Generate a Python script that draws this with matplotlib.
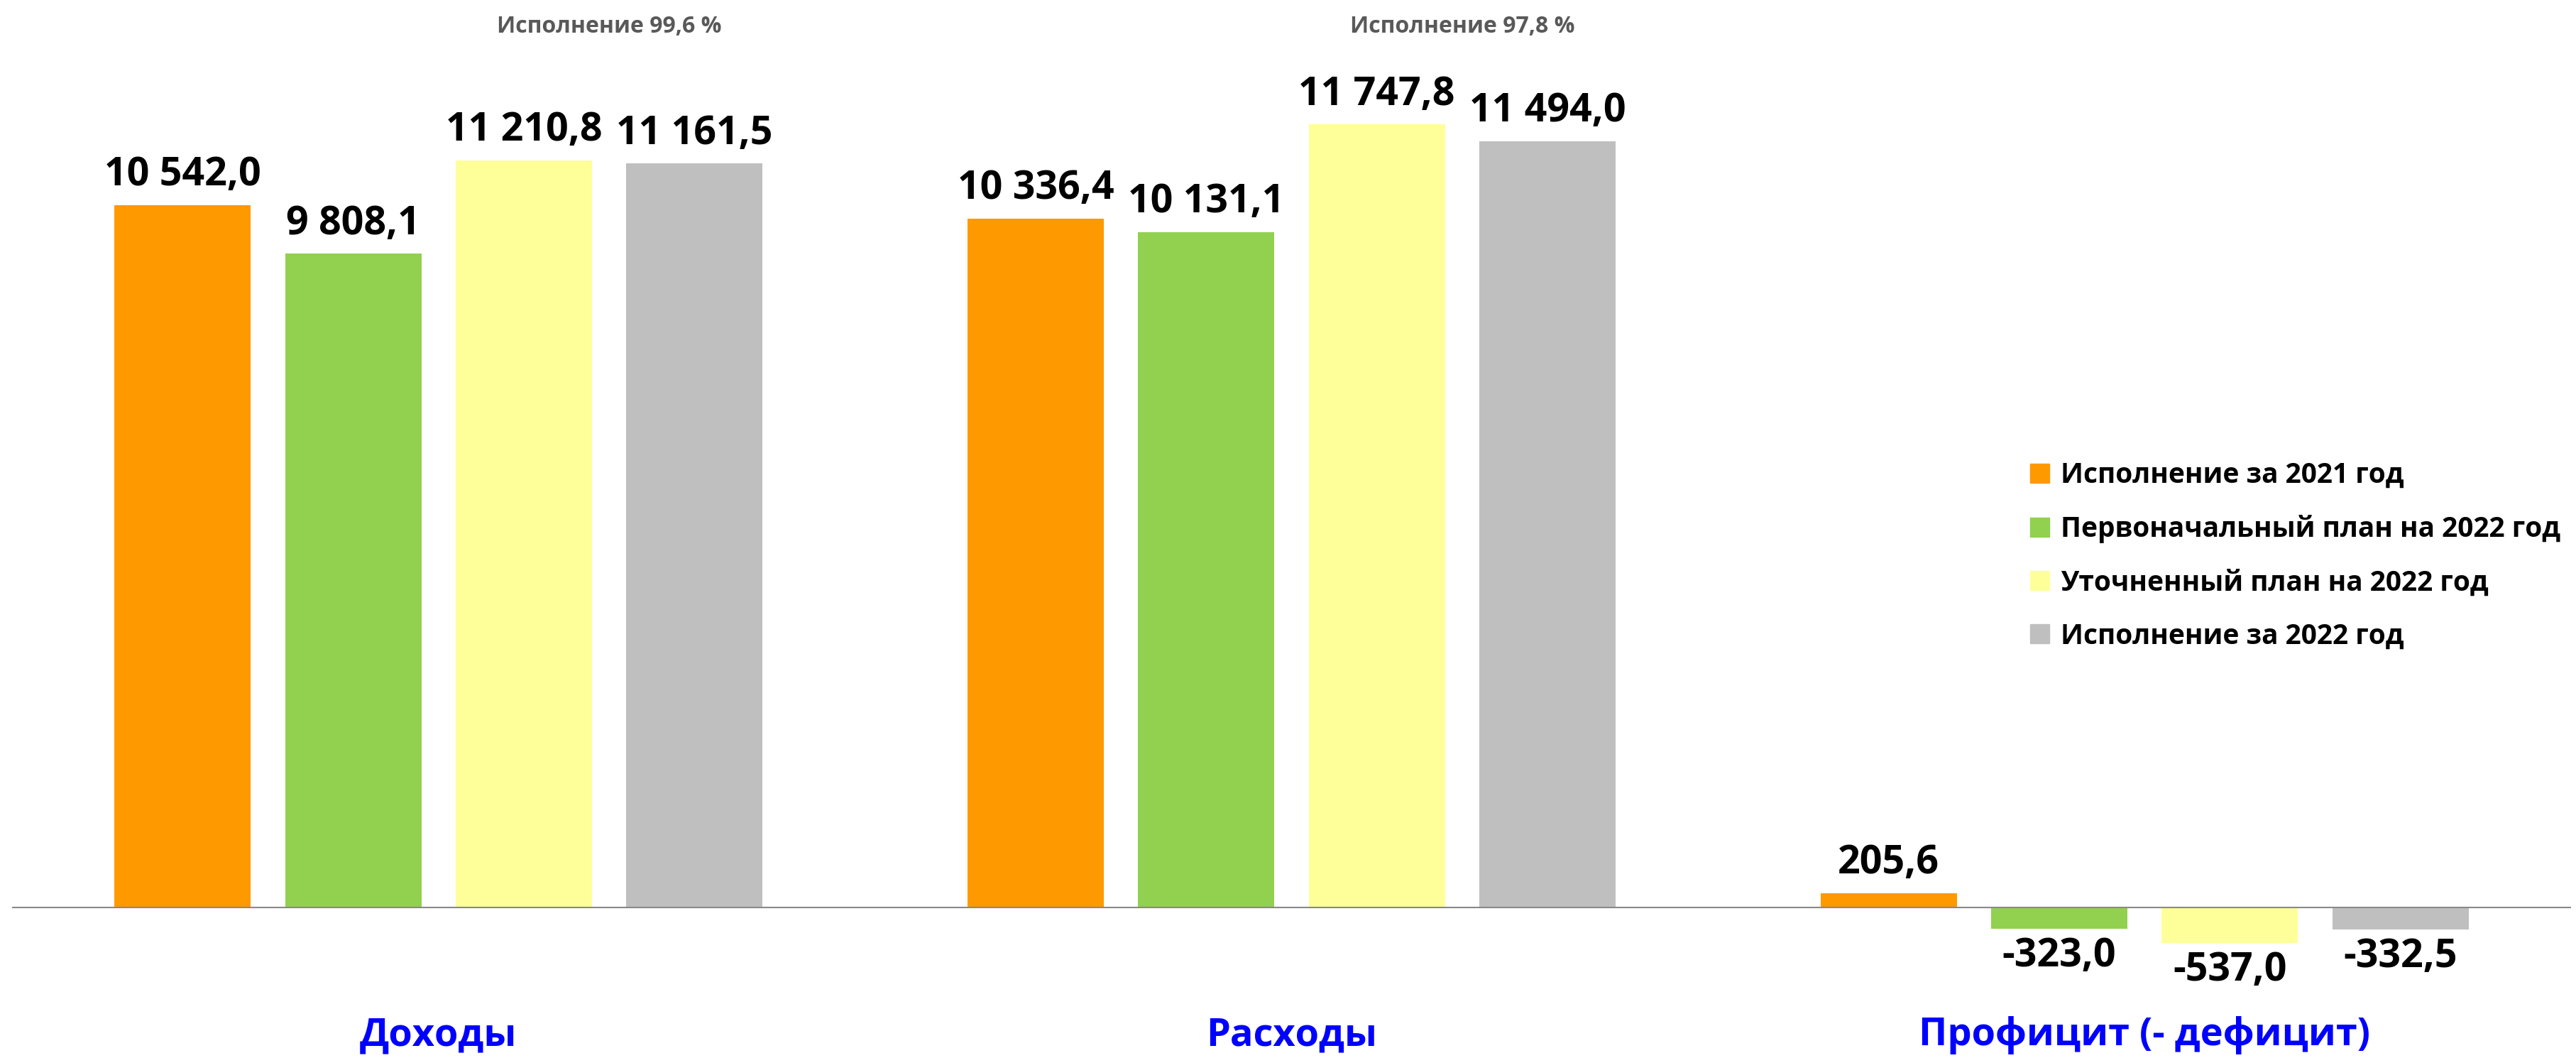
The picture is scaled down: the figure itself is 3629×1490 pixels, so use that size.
import matplotlib
matplotlib.use("Agg")
import matplotlib.pyplot as plt
import matplotlib.patches as mpatches
import matplotlib.transforms as mtransforms
import numpy as np

plt.rcParams['font.family'] = ['Open Sans', 'DejaVu Sans']

categories = ["Доходы", "Расходы", "Профицит (- дефицит)"]
series_names = ["Исполнение за 2021 год", "Первоначальный план на 2022 год",
                "Уточненный план на 2022 год", "Исполнение за 2022 год"]
fact_2021 = [10542.0, 10336.4, 205.6]
plan_initial_2022 = [9808.1, 10131.1, -323.0]
plan_refined_2022 = [11210.8, 11747.8, -537.0]
fact_2022 = [11161.5, 11494.0, -332.5]
execution_notes = ["Исполнение 99,6 %", "Исполнение 97,8 %"]

colors = ["#FF9900", "#92D050", "#FFFF99", "#BFBFBF"]
series = [fact_2021, plan_initial_2022, plan_refined_2022, fact_2022]

W, H, DPI = 3630, 1490, 100
fig = plt.figure(figsize=(W / DPI, H / DPI), dpi=DPI)
ax = fig.add_axes([17 / W, 0, 3605 / W, 1])

zero_px = 1277.5
px_per_unit = 989 / 10542.0
ax.set_ylim(-(H - zero_px) / px_per_unit, zero_px / px_per_unit)
ax.set_xlim(-2.5, 12.5)

group_x = np.arange(len(categories)) * 5.0
offsets = [-1.5, -0.5, 0.5, 1.5]


def fmt(v):
    s = f"{abs(v):,.1f}".replace(",", " ").replace(".", ",")
    return ("-" if v < 0 else "") + s


for vals, off, col, name in zip(series, offsets, colors, series_names):
    xs = group_x + off
    ax.bar(xs, vals, width=0.8, color=col, label=name, zorder=2)
    for x, v in zip(xs, vals):
        if v >= 0:
            ax.annotate(fmt(v), (x, v), xytext=(0, 20), textcoords="offset points",
                        ha="center", va="baseline", fontsize=40, fontweight="bold",
                        color="black")
        else:
            ax.annotate(fmt(v), (x, v), xytext=(0, -8), textcoords="offset points",
                        ha="center", va="top", fontsize=40, fontweight="bold",
                        color="black")

ax.axhline(0, color="#898989", lw=1.5, zorder=3)

trans = mtransforms.blended_transform_factory(ax.transData, ax.transAxes)
for gx, cat in zip(group_x, categories):
    ax.text(gx, 1 - 1458 / H, cat, transform=trans, ha="center", va="center",
            fontsize=39, fontweight="bold", color="#0000FF")

for gx, note in zip(group_x[:2], execution_notes):
    ax.text(gx + 1.0, 1 - 37 / H, note, transform=trans, ha="center", va="center",
            fontsize=23, fontweight="bold", color="#595959")

handles = [mpatches.Patch(color=c, label=n) for c, n in zip(colors, series_names)]
leg = ax.legend(handles=handles, loc="upper left",
                bbox_to_anchor=(2860 / W, 1 - 650 / H), bbox_transform=fig.transFigure,
                frameon=False, prop={'weight': 'bold', 'size': 28},
                handlelength=0.7, handleheight=0.7, handletextpad=0.4,
                labelspacing=0.93, borderpad=0, borderaxespad=0)

ax.axis("off")
fig.savefig("out.png", dpi=DPI, facecolor="white")
